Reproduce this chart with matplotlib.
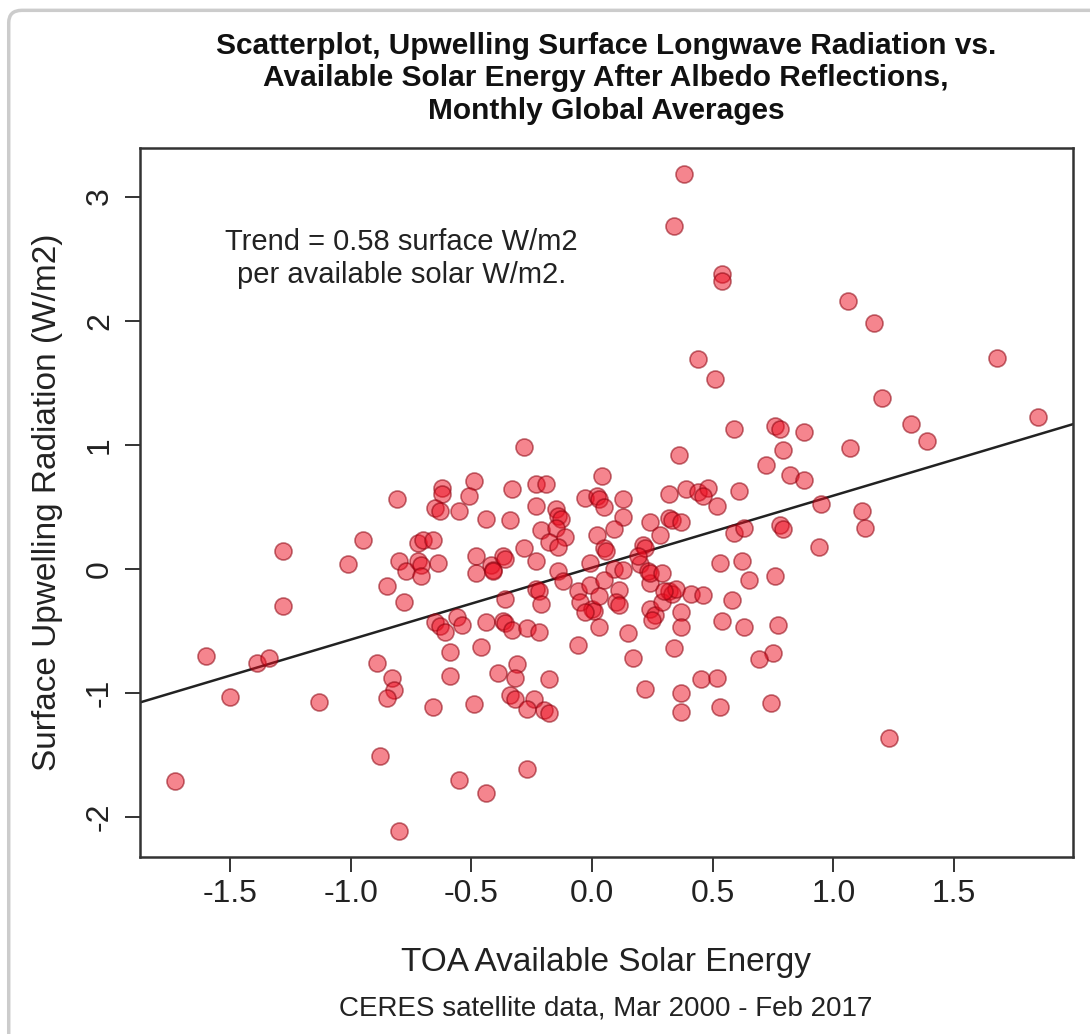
import numpy as np
import matplotlib
matplotlib.use('Agg')
from matplotlib import pyplot as plt
from matplotlib.patches import FancyBboxPatch

plt.rcParams['font.family'] = ['Liberation Sans', 'DejaVu Sans']

# monthly global anomalies (W/m2)
toa_solar = [
    0.38, 0.34, 0.54, 0.54, 0.44, 0.51, 1.06, 1.17, 1.68, 1.20,
    1.85, 1.32, 1.39, 0.59, 0.76, 0.78, 0.88, 0.79, 1.07, 0.72,
    0.82, 0.88, 0.95, 1.12, 1.13, 0.78, 0.79, 0.94, 0.76, 0.65,
    0.77, 0.75, 0.69, 0.74, 1.23, -0.28, 0.36, 0.04, -0.49, -0.62,
    -0.62, -0.65, -0.63, -0.55, -0.51, -0.33, -0.23, -0.19, -0.03, 0.02,
    0.03, 0.05, 0.13, 0.32, 0.39, 0.44, 0.48, 0.46, 0.52, 0.61,
    -0.81, -0.44, -0.34, -0.23, -0.15, -0.14, -0.13, 0.13, 0.09, 0.24,
    0.32, 0.33, 0.37, 0.28, 0.59, 0.63, -0.21, -0.15, -0.11, -0.18,
    -0.14, 0.02, 0.05, -0.28, 0.21, 0.22, 0.20, 0.53, 0.62, 0.06,
    0.09, -0.72, -0.70, -0.66, -1.28, -0.95, -1.01, -0.80, -0.77, -0.72,
    -0.71, -0.71, -0.64, -0.48, -0.42, -0.37, -0.36, -0.23, -0.48, -0.41,
    -0.41, -0.14, -0.12, -0.23, -0.22, -0.21, -0.36, -0.85, -0.78, -1.28,
    -0.01, -0.06, -0.01, 0.05, -0.05, 0.00, 0.01, -0.03, 0.03, 0.11,
    0.10, 0.11, 0.13, 0.03, 0.19, 0.24, 0.23, 0.24, 0.29, 0.24,
    0.26, 0.25, 0.29, 0.32, 0.33, 0.35, 0.30, 0.41, 0.46, 0.37,
    0.37, 0.34, 0.17, 0.15, -0.06, 0.58, 0.54, 0.63, 0.45, 0.52,
    0.22, 0.37, 0.37, 0.53, -0.65, -0.63, -0.61, -0.56, -0.54, -0.44,
    -0.37, -0.36, -0.33, -0.27, -0.22, -0.59, -0.46, -0.59, -0.39, -0.31,
    -0.32, -0.18, -0.66, -0.49, -0.34, -0.32, -0.24, -0.27, -0.20, -0.18,
    -0.89, -0.83, -0.82, -0.85, -0.88, -0.80, -1.60, -1.39, -1.34, -1.50,
    -1.13, -1.73, -0.27, -0.55, -0.44,
]
surface_lw = [
    3.18, 2.76, 2.38, 2.32, 1.69, 1.53, 2.16, 1.98, 1.70, 1.38,
    1.22, 1.17, 1.03, 1.13, 1.15, 1.13, 1.10, 0.96, 0.97, 0.84,
    0.76, 0.72, 0.52, 0.47, 0.33, 0.35, 0.32, 0.18, -0.06, -0.09,
    -0.45, -0.68, -0.73, -1.08, -1.36, 0.98, 0.92, 0.75, 0.71, 0.65,
    0.60, 0.49, 0.47, 0.47, 0.59, 0.64, 0.68, 0.68, 0.57, 0.59,
    0.56, 0.50, 0.56, 0.60, 0.64, 0.62, 0.65, 0.59, 0.51, 0.63,
    0.56, 0.40, 0.39, 0.51, 0.48, 0.43, 0.40, 0.42, 0.32, 0.38,
    0.41, 0.39, 0.38, 0.27, 0.29, 0.33, 0.31, 0.33, 0.26, 0.22,
    0.18, 0.27, 0.17, 0.17, 0.19, 0.17, 0.04, 0.05, 0.06, 0.14,
    0.00, 0.21, 0.23, 0.23, 0.14, 0.23, 0.04, 0.06, -0.02, 0.06,
    0.03, -0.06, 0.05, 0.10, 0.03, 0.10, 0.08, 0.06, -0.03, -0.01,
    -0.02, -0.02, -0.10, -0.16, -0.18, -0.28, -0.24, -0.14, -0.27, -0.30,
    0.05, -0.18, -0.13, -0.09, -0.27, -0.32, -0.34, -0.35, -0.22, -0.17,
    -0.27, -0.29, -0.01, -0.47, 0.10, -0.11, -0.02, -0.03, -0.03, -0.32,
    -0.37, -0.41, -0.27, -0.18, -0.20, -0.16, -0.18, -0.20, -0.21, -0.35,
    -0.47, -0.64, -0.72, -0.52, -0.61, -0.25, -0.42, -0.47, -0.89, -0.88,
    -0.97, -1.00, -1.15, -1.11, -0.43, -0.46, -0.51, -0.39, -0.45, -0.43,
    -0.42, -0.44, -0.49, -0.48, -0.51, -0.67, -0.63, -0.86, -0.84, -0.77,
    -0.88, -0.89, -1.11, -1.09, -1.02, -1.05, -1.05, -1.13, -1.14, -1.16,
    -0.76, -0.88, -0.98, -1.04, -1.51, -2.11, -0.70, -0.76, -0.72, -1.03,
    -1.07, -1.71, -1.61, -1.70, -1.81,
]

trend_slope = 0.58
trend_intercept = 0.01

title = ('Scatterplot, Upwelling Surface Longwave Radiation vs.\n'
         'Available Solar Energy After Albedo Reflections,\n'
         'Monthly Global Averages')
note = 'Trend = 0.58 surface W/m2\nper available solar W/m2.'
source = 'CERES satellite data, Mar 2000 - Feb 2017'

x = np.array(toa_solar)
y = np.array(surface_lw)

fig = plt.figure(figsize=(10.9, 10.34), dpi=100)
fig.patch.set_facecolor('white')

# screenshot-like rounded frame
frame = FancyBboxPatch((0.008, -0.05), 1.1, 1.04, boxstyle='round,pad=0,rounding_size=0.012',
                       transform=fig.transFigure, facecolor='none', edgecolor='#cccccc',
                       linewidth=2.5, zorder=0)
fig.patches.append(frame)

ax = fig.add_axes([0.1284, 0.1712, 0.8560, 0.6857])

ax.scatter(x, y, s=150, facecolor=(0.93, 0.05, 0.12, 0.5), edgecolor=(0.55, 0.0, 0.05, 0.55),
           linewidth=1.2, zorder=3)
ax.axline((0, trend_intercept), slope=trend_slope, color='#222222', linewidth=1.8, zorder=2)

# R style 4% axis extension
xr = x.max() - x.min()
yr = y.max() - y.min()
ax.set_xlim(x.min() - 0.04 * xr, x.max() + 0.04 * xr)
ax.set_ylim(y.min() - 0.04 * yr, y.max() + 0.04 * yr)

ax.set_xticks([-1.5, -1.0, -0.5, 0.0, 0.5, 1.0, 1.5])
ax.set_xticklabels(['-1.5', '-1.0', '-0.5', '0.0', '0.5', '1.0', '1.5'])
ax.set_yticks([-2, -1, 0, 1, 2, 3])
ax.set_yticklabels(['-2', '-1', '0', '1', '2', '3'], rotation=90, va='center')

ax.tick_params(axis='both', direction='out', length=11, width=1.4, color='#333333',
               labelsize=23, labelcolor='#222222')
ax.tick_params(axis='x', pad=5)
ax.tick_params(axis='y', pad=7)
for sp in ax.spines.values():
    sp.set_linewidth(1.8)
    sp.set_color('#333333')

ax.set_xlabel('TOA Available Solar Energy', fontsize=24, color='#222222', labelpad=27)
ax.set_ylabel('Surface Upwelling Radiation (W/m2)', fontsize=24, color='#222222', labelpad=16)

ax.text(-0.79, 2.50, note, fontsize=21, ha='center', va='center', color='#222222',
        linespacing=1.2)

fig.text(0.556, 0.969, title, fontsize=21.5, fontweight='bold', ha='center', va='top',
         color='#111111', linespacing=1.2)
fig.text(0.556, 0.025, source, fontsize=20, ha='center', va='center', color='#222222')

fig.savefig('out.png', dpi=100)
